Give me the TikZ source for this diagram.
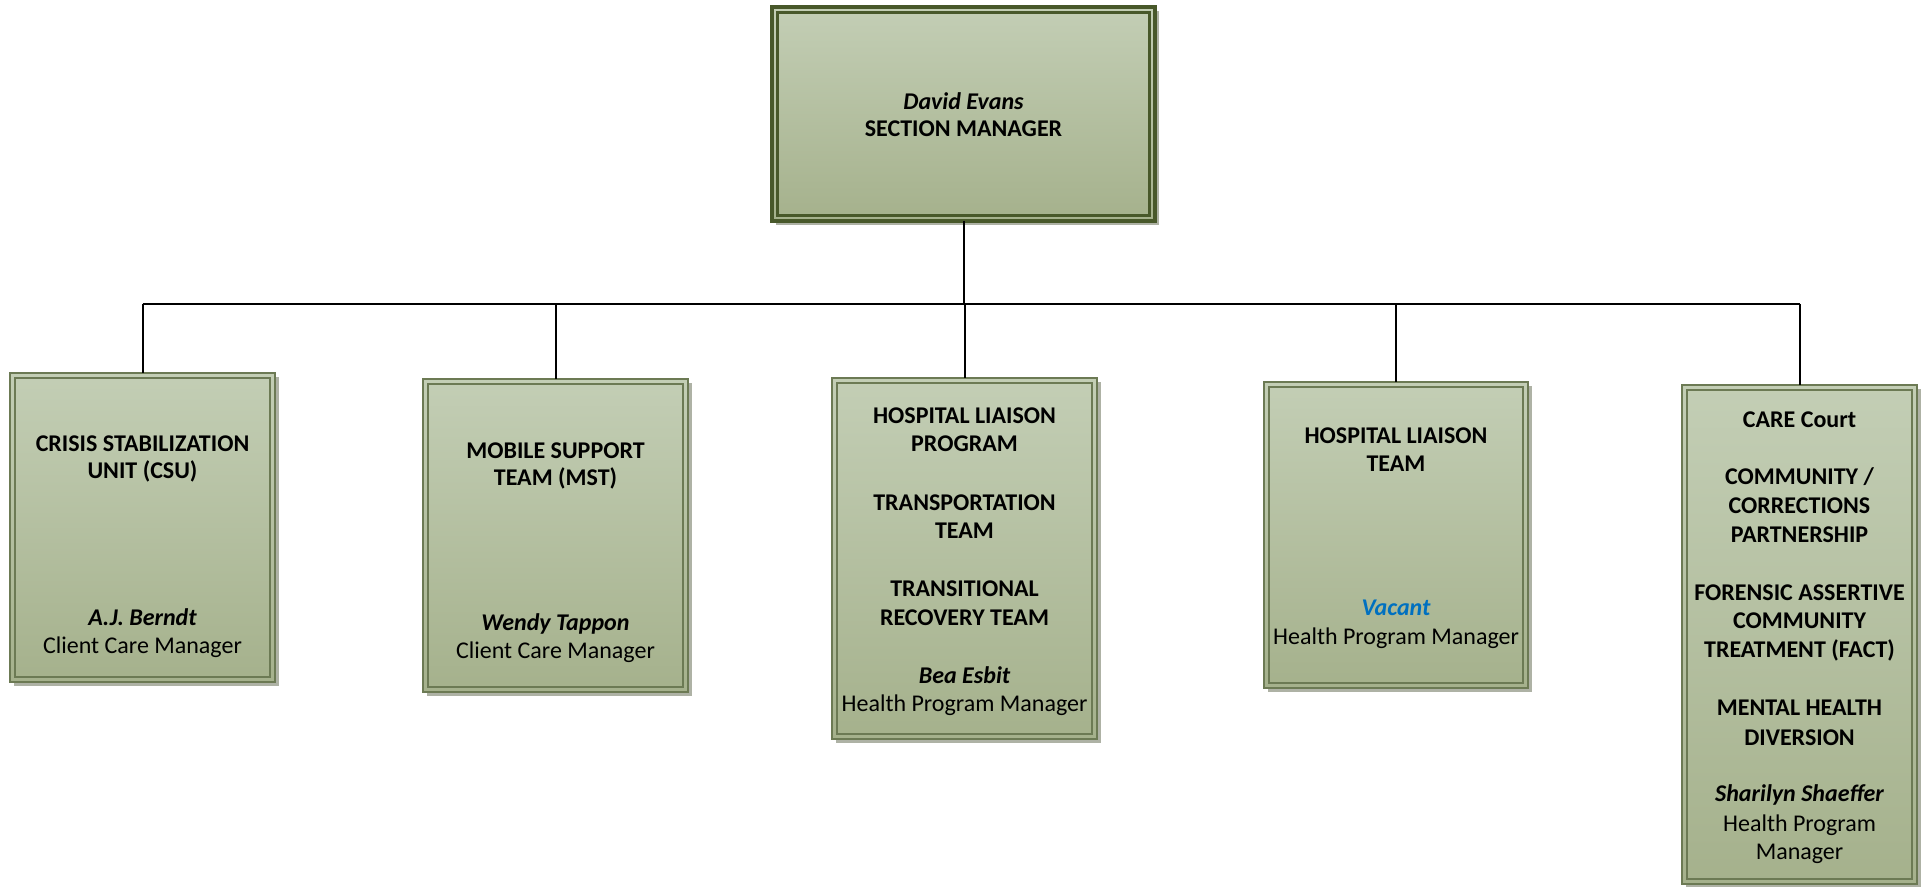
\documentclass[tikz,border=0pt]{standalone}
\usepackage{fontspec}
\setmainfont{Carlito}
\usetikzlibrary{shadows}
\definecolor{boxtop}{RGB}{195,206,181}
\definecolor{boxbot}{RGB}{165,177,140}
\definecolor{edgec}{RGB}{108,122,84}
\definecolor{darkedge}{RGB}{72,88,42}
\definecolor{shadowc}{RGB}{165,170,155}
\definecolor{vacantc}{RGB}{0,112,192}
\tikzset{
  unitbox/.style={draw=edgec, line width=0.8pt, top color=boxtop, bottom color=boxbot,
    inner sep=0pt, outer sep=0pt,
    drop shadow={shadow xshift=2pt, shadow yshift=-2pt, fill=shadowc, opacity=0.9}},
  headbox/.style={draw=darkedge, line width=2pt, top color=boxtop, bottom color=boxbot,
    inner sep=0pt, outer sep=0pt,
    drop shadow={shadow xshift=2.2pt, shadow yshift=-2.2pt, fill=shadowc, opacity=0.9}},
  innerline/.style={draw=edgec, line width=0.7pt},
  headinner/.style={draw=darkedge, line width=1.5pt},
  conn/.style={draw=black, line width=1pt},
  tl/.style={anchor=base, inner sep=0pt, font=\fontsize{12}{14}\selectfont},
  tb/.style={tl, font=\fontsize{12}{14}\selectfont\bfseries},
  tn/.style={tl, font=\fontsize{12}{14}\selectfont\bfseries\itshape},
}
\begin{document}
\begin{tikzpicture}[x=0.5pt,y=-0.5pt]
\useasboundingbox (0,0) rectangle (1925,887);

% boxes
\node[headbox, minimum width=191.5pt, minimum height=107pt] (top) at (963.5,114) {};
\draw[headinner] ([shift={(5.5,5.5)}]top.north west) rectangle ([shift={(-5.5,-5.5)}]top.south east);

\node[unitbox, minimum width=132.5pt, minimum height=154.5pt] (b1) at (142.5,527.5) {};
\node[unitbox, minimum width=132.5pt, minimum height=156.5pt] (b2) at (555.5,535.5) {};
\node[unitbox, minimum width=132.5pt, minimum height=180.5pt] (b3) at (964.5,558.5) {};
\node[unitbox, minimum width=132pt, minimum height=153pt] (b4) at (1396,535) {};
\node[unitbox, minimum width=117.5pt, minimum height=249.5pt] (b5) at (1799.5,634.5) {};
\foreach \b in {b1,b2,b3,b4,b5}{
  \draw[innerline] ([shift={(5,5)}]\b.north west) rectangle ([shift={(-5,-5)}]\b.south east);
}

% connectors
\coordinate (bar) at (964,304);
\coordinate (barL) at (b1.north |- bar);
\coordinate (barR) at (b5.north |- bar);
\draw[conn] (top.south) -- (top.south |- bar);
\draw[conn] (barL) -- (barR);
\foreach \b in {b1,b2,b3,b4,b5}{
  \draw[conn] (\b.north |- bar) -- (\b.north);
}

% texts: head
\node[tn] (tA1) at (963.5,110) {David Evans};
\node[tb] (tA2) at (963.5,137) {SECTION MANAGER};

% box 1
\node[tb] (t11) at (142.5,451) {CRISIS STABILIZATION};
\node[tb] (t12) at (142.5,478) {UNIT (CSU)};
\node[tn] (t13) at (142.5,625) {A.J. Berndt};
\node[tl] (t14) at (142.5,653) {Client Care Manager};

% box 2
\node[tb] (t21) at (555.5,458) {MOBILE SUPPORT};
\node[tb] (t22) at (555.5,485) {TEAM (MST)};
\node[tn] (t23) at (555.5,630) {Wendy Tappon};
\node[tl] (t24) at (555.5,658) {Client Care Manager};

% box 3
\node[tb] (t31) at (964.5,423) {HOSPITAL LIAISON};
\node[tb] (t32) at (964.5,451) {PROGRAM};
\node[tb] (t33) at (964.5,510) {TRANSPORTATION};
\node[tb] (t34) at (964.5,538) {TEAM};
\node[tb] (t35) at (964.5,596) {TRANSITIONAL};
\node[tb] (t36) at (964.5,625) {RECOVERY TEAM};
\node[tn] (t37) at (964.5,683) {Bea Esbit};
\node[tl] (t38) at (964.5,711) {Health Program Manager};

% box 4
\node[tb] (t41) at (1396,443) {HOSPITAL LIAISON};
\node[tb] (t42) at (1396,471) {TEAM};
\node[tn, text=vacantc] (t43) at (1396,615) {Vacant};
\node[tl] (t44) at (1396,644) {Health Program Manager};

% box 5
\node[tb] (t51) at (1799.5,427) {CARE Court};
\node[tb] (t52) at (1799.5,484) {COMMUNITY /};
\node[tb] (t53) at (1799.5,513) {CORRECTIONS};
\node[tb] (t54) at (1799.5,542) {PARTNERSHIP};
\node[tb] (t55) at (1799.5,600) {FORENSIC ASSERTIVE};
\node[tb] (t56) at (1799.5,628) {COMMUNITY};
\node[tb] (t57) at (1799.5,657) {TREATMENT (FACT)};
\node[tb] (t58) at (1799.5,715) {MENTAL HEALTH};
\node[tb] (t59) at (1799.5,745) {DIVERSION};
\node[tn] (t5a) at (1799.5,801) {Sharilyn Shaeffer};
\node[tl] (t5b) at (1799.5,831) {Health Program};
\node[tl] (t5c) at (1799.5,859) {Manager};
\end{tikzpicture}
\end{document}
